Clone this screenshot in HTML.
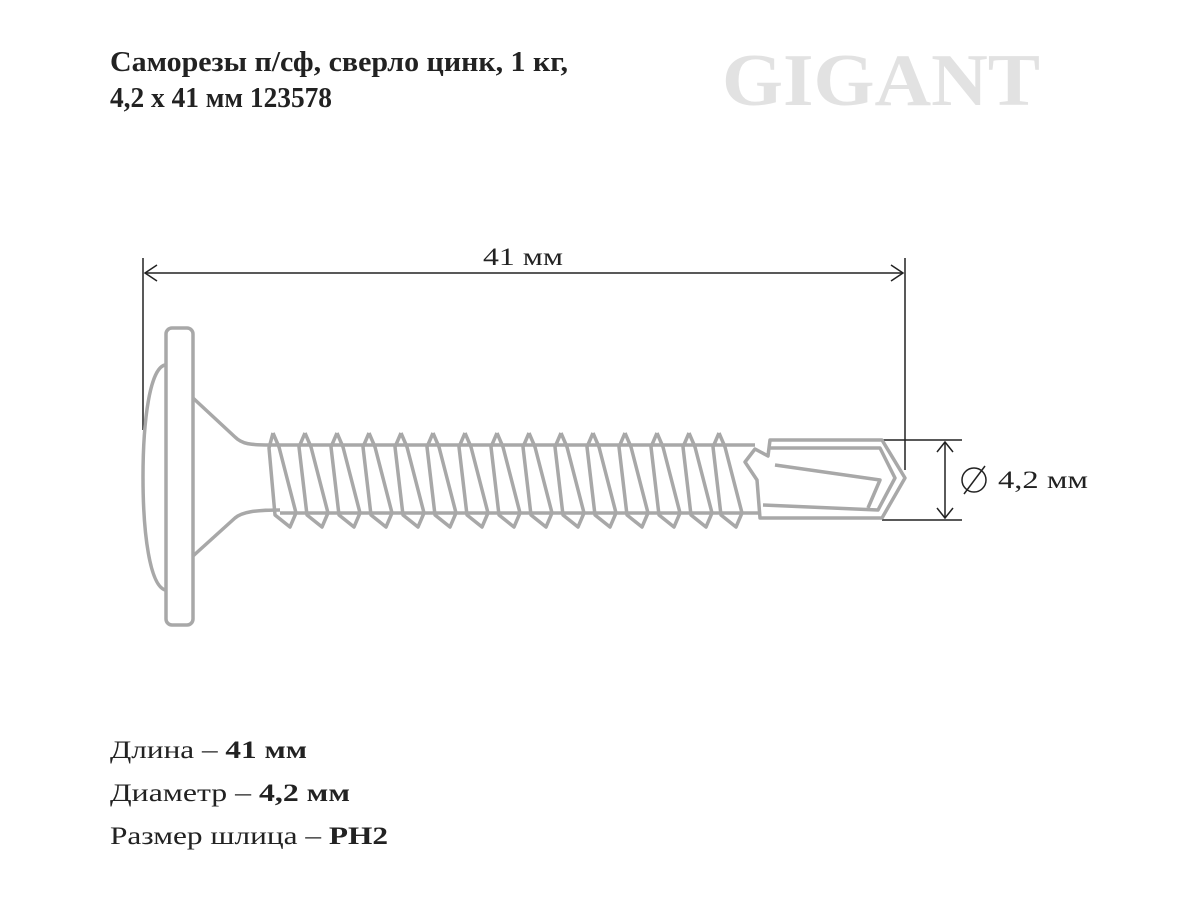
<!DOCTYPE html>
<html><head><meta charset="utf-8"><style>html,body{margin:0;padding:0;background:#fff}</style></head>
<body>
<svg width="1200" height="900" viewBox="0 0 1200 900" xmlns="http://www.w3.org/2000/svg" font-family="'Liberation Serif', serif">
<rect width="1200" height="900" fill="#fff"/>
<g fill="#222" font-weight="bold" font-size="28">
<text x="110" y="71" textLength="458" lengthAdjust="spacingAndGlyphs">Саморезы п/сф, сверло цинк, 1 кг,</text>
<text x="110" y="107" textLength="222" lengthAdjust="spacingAndGlyphs">4,2 x 41 мм 123578</text>
</g>
<text x="722" y="105" font-size="74" font-weight="bold" fill="#e2e2e2" textLength="318" lengthAdjust="spacingAndGlyphs">GIGANT</text>

<g stroke="#222" stroke-width="1.5" fill="none">
<line x1="143" y1="258" x2="143" y2="430"/>
<line x1="905" y1="258" x2="905" y2="470"/>
<line x1="145" y1="273" x2="903" y2="273"/>
<polyline points="157,265 145,273 157,281"/>
<polyline points="891,265 903,273 891,281"/>
<line x1="882" y1="440" x2="962" y2="440"/>
<line x1="882" y1="520" x2="962" y2="520"/>
<line x1="945" y1="442" x2="945" y2="518"/>
<polyline points="937,452 945,442 953,452"/>
<polyline points="937,508 945,518 953,508"/>
<circle cx="974" cy="480" r="12"/>
<line x1="964" y1="494" x2="985" y2="466"/>
</g>
<text x="483" y="265" font-size="25" fill="#222" textLength="80" lengthAdjust="spacingAndGlyphs">41 мм</text>
<text x="998" y="488" font-size="25" fill="#222" textLength="90" lengthAdjust="spacingAndGlyphs">4,2 мм</text>

<g stroke="#a8a8a8" stroke-width="3.5" fill="none" stroke-linejoin="round">
<path d="M165,365 C150,368 143,420 143,477 C143,535 150,585 165,590"/>
<rect x="166" y="328" width="27" height="297" rx="6"/>
<path d="M193,398 L235,437 C242,444 250,445 270,445"/>
<path d="M193,556 L235,518 C242,512 255,510 280,510"/>
<line x1="270" y1="445" x2="755" y2="445"/>
<line x1="280" y1="513" x2="760" y2="513"/>
<path d="M755,449 L768,456 L770,440 L882,440 L905,478 L882,518 L760,518 L757,480 L745,462 Z"/>
<path d="M770,448 L880,448 L895,478 L878,510 L763,505"/>
<path d="M775,465 L880,480 L868,508"/>
</g>
<g stroke="#a8a8a8" stroke-width="3.5" fill="none" stroke-linejoin="round">
<path d="M273,433 L269,448 L275,515 L290,527 L296,513"/><path d="M273,433 L279,447 L296,513"/>
<path d="M305,433 L299,447 L307,515 L322,527 L328,513"/><path d="M305,433 L311,447 L328,513"/>
<path d="M337,433 L331,447 L339,515 L354,527 L360,513"/><path d="M337,433 L343,447 L360,513"/>
<path d="M369,433 L363,447 L371,515 L386,527 L392,513"/><path d="M369,433 L375,447 L392,513"/>
<path d="M401,433 L395,447 L403,515 L418,527 L424,513"/><path d="M401,433 L407,447 L424,513"/>
<path d="M433,433 L427,447 L435,515 L450,527 L456,513"/><path d="M433,433 L439,447 L456,513"/>
<path d="M465,433 L459,447 L467,515 L482,527 L488,513"/><path d="M465,433 L471,447 L488,513"/>
<path d="M497,433 L491,447 L499,515 L514,527 L520,513"/><path d="M497,433 L503,447 L520,513"/>
<path d="M529,433 L523,447 L531,515 L546,527 L552,513"/><path d="M529,433 L535,447 L552,513"/>
<path d="M561,433 L555,447 L563,515 L578,527 L584,513"/><path d="M561,433 L567,447 L584,513"/>
<path d="M593,433 L587,447 L595,515 L610,527 L616,513"/><path d="M593,433 L599,447 L616,513"/>
<path d="M625,433 L619,447 L627,515 L642,527 L648,513"/><path d="M625,433 L631,447 L648,513"/>
<path d="M657,433 L651,447 L659,515 L674,527 L680,513"/><path d="M657,433 L663,447 L680,513"/>
<path d="M689,433 L683,447 L691,515 L706,527 L712,513"/><path d="M689,433 L695,447 L712,513"/>
<path d="M719,433 L713,447 L721,515 L736,527 L742,513"/><path d="M719,433 L725,447 L742,513"/>
</g>

<g font-size="25" fill="#222">
<text x="110" y="758" textLength="197" lengthAdjust="spacingAndGlyphs">Длина – <tspan font-weight="bold">41 мм</tspan></text>
<text x="110" y="801" textLength="240" lengthAdjust="spacingAndGlyphs">Диаметр – <tspan font-weight="bold">4,2 мм</tspan></text>
<text x="110" y="844" textLength="278" lengthAdjust="spacingAndGlyphs">Размер шлица – <tspan font-weight="bold">PH2</tspan></text>
</g>
</svg>
</body></html>
